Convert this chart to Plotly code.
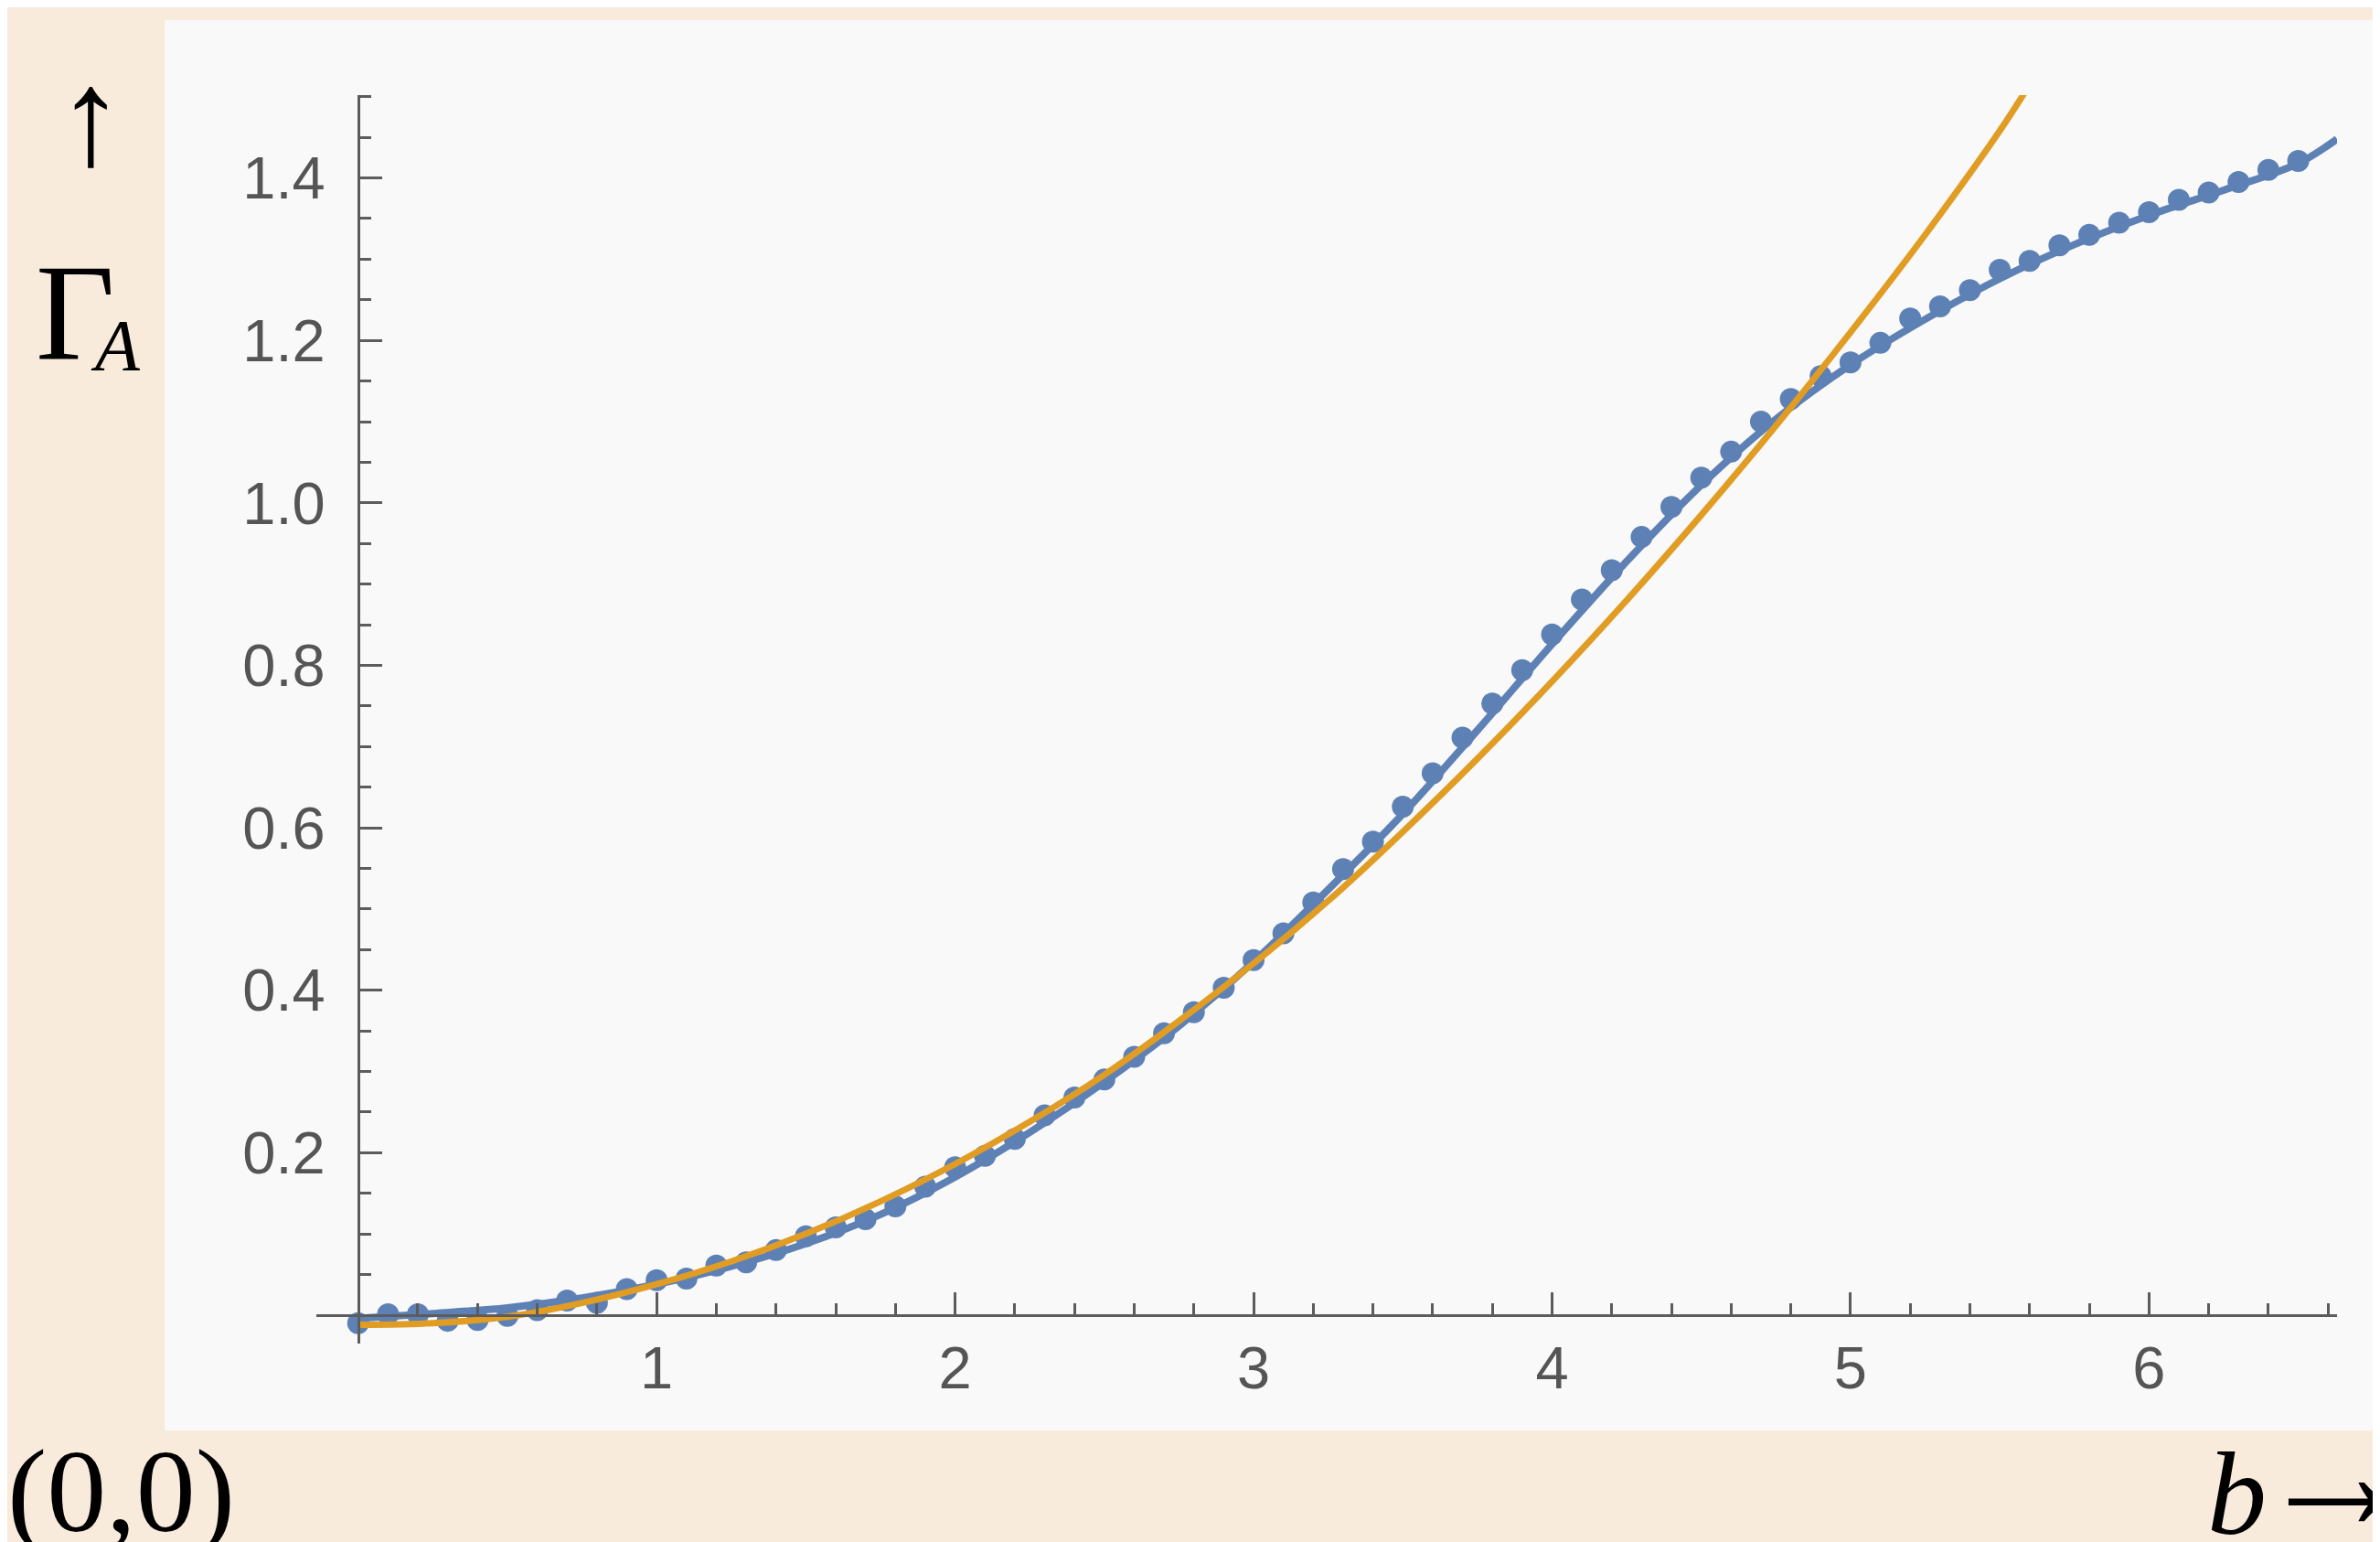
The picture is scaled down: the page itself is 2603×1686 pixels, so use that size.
import plotly.graph_objects as go

# ---------------- data ----------------
b_points = [0.0, 0.1, 0.2, 0.3, 0.4, 0.5, 0.6, 0.7, 0.8, 0.9,
            1.0, 1.1, 1.2, 1.3, 1.4, 1.5, 1.6, 1.7, 1.8, 1.9,
            2.0, 2.1, 2.2, 2.3, 2.4, 2.5, 2.6, 2.7, 2.8, 2.9,
            3.0, 3.1, 3.2, 3.3, 3.4, 3.5, 3.6, 3.7, 3.8, 3.9,
            4.0, 4.1, 4.2, 4.3, 4.4, 4.5, 4.6, 4.7, 4.8, 4.9,
            5.0, 5.1, 5.2, 5.3, 5.4, 5.5, 5.6, 5.7, 5.8, 5.9,
            6.0, 6.1, 6.2, 6.3, 6.4, 6.5]
gamma_points = [-0.010, 0.001, 0.001, -0.007, -0.006, -0.001, 0.006, 0.018, 0.015, 0.032,
                0.043, 0.045, 0.061, 0.065, 0.080, 0.097, 0.108, 0.118, 0.134, 0.158,
                0.182, 0.196, 0.217, 0.246, 0.268, 0.290, 0.318, 0.347, 0.373, 0.403,
                0.437, 0.470, 0.508, 0.549, 0.583, 0.626, 0.667, 0.711, 0.753, 0.794,
                0.838, 0.881, 0.917, 0.958, 0.995, 1.031, 1.063, 1.100, 1.128, 1.156,
                1.173, 1.197, 1.227, 1.242, 1.262, 1.287, 1.298, 1.317, 1.330, 1.345,
                1.358, 1.373, 1.382, 1.395, 1.410, 1.421]

b_fit = [0.0, 0.25, 0.5, 0.75, 1.0, 1.25, 1.5, 1.75, 2.0, 2.25, 2.5, 2.75,
         3.0, 3.25, 3.5, 3.75, 4.0, 4.25, 4.5, 4.75, 5.0, 5.25, 5.5, 5.75,
         6.0, 6.25, 6.5, 6.63]
gamma_fit = [-0.004, 0.002, 0.009, 0.021, 0.038, 0.060, 0.088, 0.124, 0.170, 0.225, 0.287, 0.356,
             0.435, 0.524, 0.617, 0.720, 0.826, 0.928, 1.022, 1.103, 1.170, 1.226, 1.276, 1.318,
             1.354, 1.385, 1.418, 1.448]

b_model = [0.0, 0.25, 0.5, 0.75, 1.0, 1.25, 1.5, 1.75, 2.0, 2.25, 2.5, 2.75,
           3.0, 3.25, 3.5, 3.75, 4.0, 4.25, 4.5, 4.75, 5.0, 5.25, 5.5, 5.6]
gamma_model = [-0.012, -0.010, -0.002, 0.015, 0.038, 0.066, 0.100, 0.140, 0.186, 0.238, 0.296, 0.362,
               0.433, 0.510, 0.595, 0.685, 0.780, 0.880, 0.985, 1.095, 1.210, 1.330, 1.458, 1.515]

x_major = [1, 2, 3, 4, 5, 6]
x_major_text = ["1", "2", "3", "4", "5", "6"]
x_minor = [0.2, 0.4, 0.6, 0.8, 1.2, 1.4, 1.6, 1.8, 2.2, 2.4, 2.6, 2.8, 3.2, 3.4, 3.6, 3.8,
           4.2, 4.4, 4.6, 4.8, 5.2, 5.4, 5.6, 5.8, 6.2, 6.4, 6.6]
y_major = [0.2, 0.4, 0.6, 0.8, 1.0, 1.2, 1.4]
y_major_text = ["0.2", "0.4", "0.6", "0.8", "1.0", "1.2", "1.4"]
y_minor = [0.05, 0.1, 0.15, 0.25, 0.3, 0.35, 0.45, 0.5, 0.55, 0.65, 0.7, 0.75, 0.85, 0.9, 0.95,
           1.05, 1.1, 1.15, 1.25, 1.3, 1.35, 1.45, 1.5]

# ---------------- layout geometry ----------------
W, H = 2603, 1686
L, R, T, B = 338, 55, 96, 225
X_RANGE = [-0.14, 6.63]
Y_RANGE = [-0.035, 1.502]

def px_x(px):
    return (px - L) / (W - L - R)

def px_y(py):
    return (H - B - py) / (H - T - B)

BLUE = "#5E81B5"
ORANGE = "#E19C24"
AXIS = "#5c5c5c"
TICKFONT = dict(family="Liberation Sans, Arial, sans-serif", size=65, color="#555555")
SERIF = "Liberation Serif, Times New Roman, serif"

fig = go.Figure()
fig.add_trace(go.Scatter(x=b_fit, y=gamma_fit, mode="lines",
                         line=dict(color=BLUE, width=8, shape="spline"), hoverinfo="skip"))
fig.add_trace(go.Scatter(x=b_points, y=gamma_points, mode="markers",
                         marker=dict(color=BLUE, size=24), hoverinfo="skip"))
fig.add_trace(go.Scatter(x=b_model, y=gamma_model, mode="lines",
                         line=dict(color=ORANGE, width=7, shape="spline"), hoverinfo="skip"))

x_pos = (0 - Y_RANGE[0]) / (Y_RANGE[1] - Y_RANGE[0])
y_pos = (0 - X_RANGE[0]) / (X_RANGE[1] - X_RANGE[0])

fig.update_layout(
    width=W, height=H,
    margin=dict(l=L, r=R, t=T, b=B, pad=0),
    paper_bgcolor="#f8ebdc",
    plot_bgcolor="rgba(0,0,0,0)",
    showlegend=False,
    xaxis=dict(range=X_RANGE, anchor="free", position=x_pos,
               showgrid=False, zeroline=False, showline=True, linecolor=AXIS, linewidth=3,
               tickmode="array", tickvals=x_major, ticktext=x_major_text,
               ticks="inside", ticklen=24, tickwidth=3, tickcolor=AXIS,
               tickfont=TICKFONT, ticklabelstandoff=0,
               minor=dict(tickmode="array", tickvals=x_minor, ticks="inside",
                          ticklen=12, tickwidth=3, tickcolor=AXIS, showgrid=False)),
    yaxis=dict(range=Y_RANGE, anchor="free", position=y_pos,
               showgrid=False, zeroline=False, showline=True, linecolor=AXIS, linewidth=3,
               tickmode="array", tickvals=y_major, ticktext=y_major_text,
               ticks="inside", ticklen=24, tickwidth=3, tickcolor=AXIS,
               tickfont=TICKFONT, ticklabelstandoff=22,
               minor=dict(tickmode="array", tickvals=y_minor, ticks="inside",
                          ticklen=12, tickwidth=3, tickcolor=AXIS, showgrid=False)),
    shapes=[dict(type="rect", xref="paper", yref="paper", layer="below",
                 x0=px_x(172), x1=px_x(2610), y0=px_y(1556), y1=px_y(14),
                 fillcolor="#f9f9f9", line=dict(width=0))],
)

def note(text, cx, cy, size, xanchor="center", yanchor="middle"):
    fig.add_annotation(text=text, xref="paper", yref="paper", x=px_x(cx), y=px_y(cy),
                       xanchor=xanchor, yanchor=yanchor, showarrow=False,
                       font=dict(family=SERIF, size=size, color="black"))

note("↑", 91, 120, 150)
note("Γ", 74, 333, 150)
note("<i>A</i>", 118, 370, 80)
note("(0,0)", 124, 1622, 130)
note("<i>b</i>", 2438, 1625, 130)
note("→", 2640, 1603, 180, xanchor="right")

fig.write_html("out.html")
